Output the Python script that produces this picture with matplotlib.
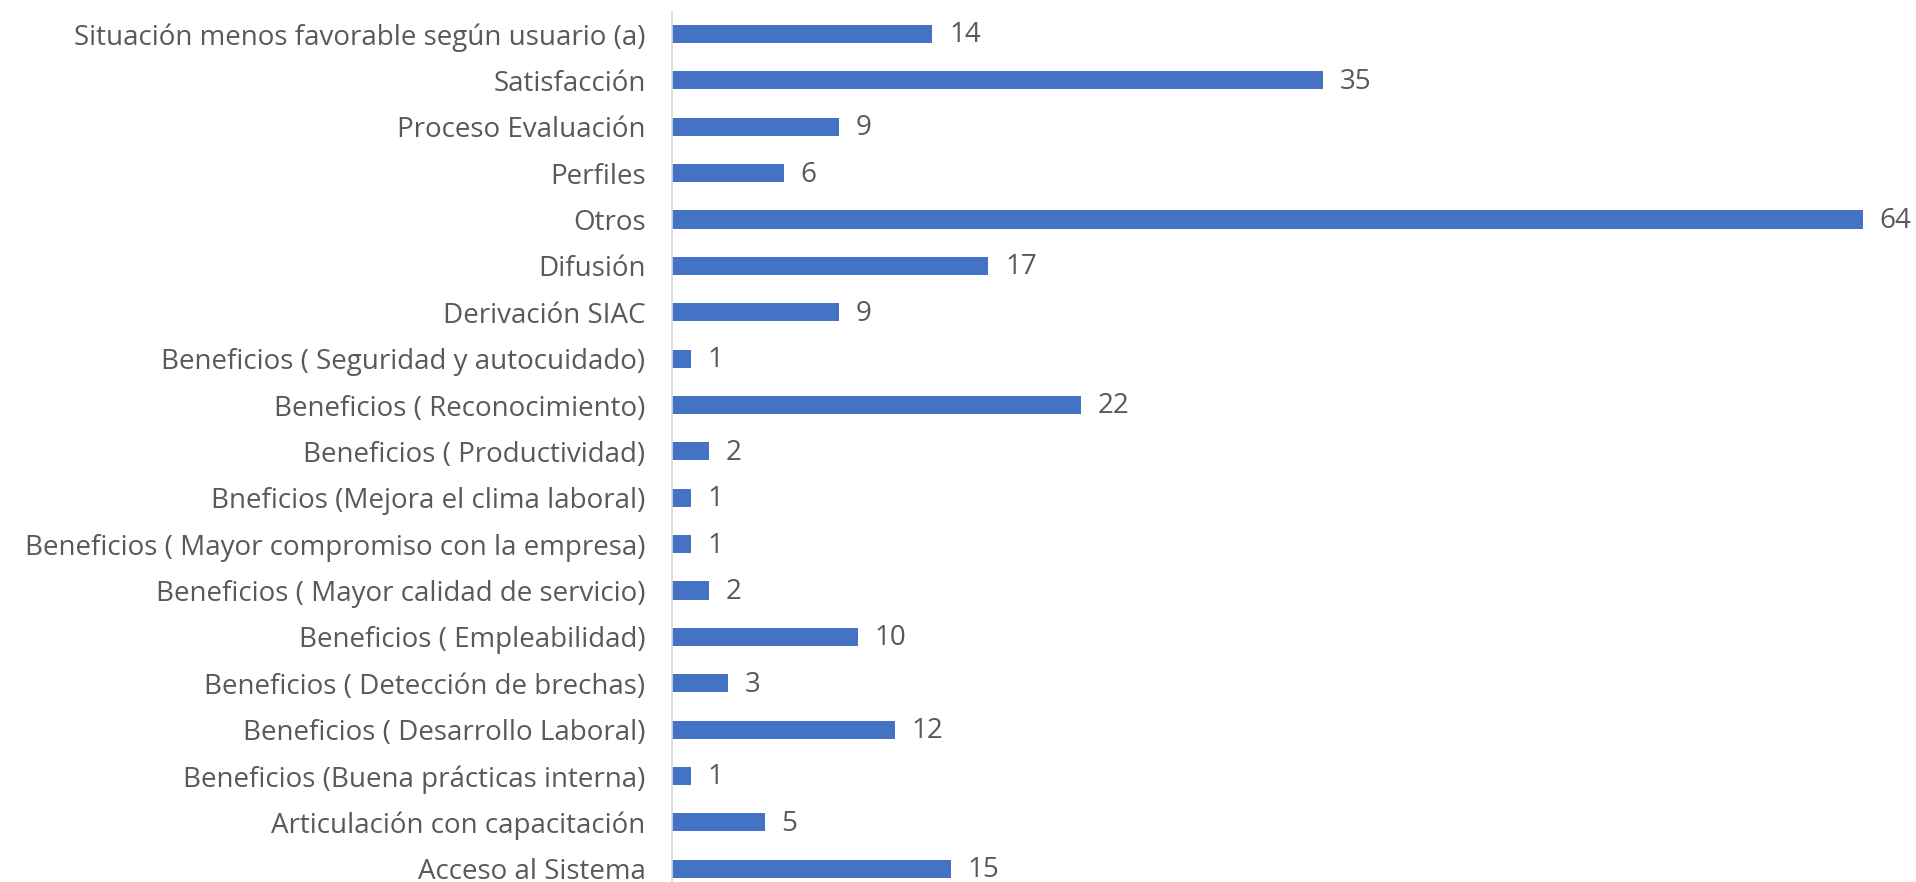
import matplotlib.pyplot as plt

# Data (bottom to top as drawn)
categories = [
    'Acceso al Sistema',
    'Articulación con capacitación',
    'Beneficios (Buena prácticas interna)',
    'Beneficios ( Desarrollo Laboral)',
    'Beneficios ( Detección de brechas)',
    'Beneficios ( Empleabilidad)',
    'Beneficios ( Mayor calidad de servicio)',
    'Beneficios ( Mayor compromiso con la empresa)',
    'Bneficios (Mejora el clima laboral)',
    'Beneficios ( Productividad)',
    'Beneficios ( Reconocimiento)',
    'Beneficios ( Seguridad y autocuidado)',
    'Derivación SIAC',
    'Difusión',
    'Otros',
    'Perfiles',
    'Proceso Evaluación',
    'Satisfacción',
    'Situación menos favorable según usuario (a)',
]
values = [15, 5, 1, 12, 3, 10, 2, 1, 1, 2, 22, 1, 9, 17, 64, 6, 9, 35, 14]

BAR_COLOR = '#4472C4'
TEXT_COLOR = '#595959'

plt.rcParams['font.family'] = ['Open Sans', 'DejaVu Sans']

fig = plt.figure(figsize=(19.16, 8.82), dpi=100)
ax = fig.add_axes([0.3507, -0.0113, 0.6216, 0.999])

pos = list(range(len(categories)))
bars = ax.barh(pos, values, height=0.39, color=BAR_COLOR)

for b, v in zip(bars, values):
    ax.annotate(str(v), (b.get_width(), b.get_y() + b.get_height() / 2),
                xytext=(12, -1), textcoords='offset points',
                va='center', ha='left', fontsize=20, color=TEXT_COLOR)

ax.set_xlim(0, 64)
ax.set_ylim(-0.5, len(categories) - 0.5)
ax.set_yticks(pos)
ax.set_yticklabels(categories, fontsize=20, color=TEXT_COLOR)
ax.tick_params(axis='y', length=0, pad=19)
ax.set_xticks([])

for s in ['top', 'right', 'bottom']:
    ax.spines[s].set_visible(False)
ax.spines['left'].set_color('#d9d9d9')
ax.spines['left'].set_linewidth(1.2)

fig.savefig('out.png', dpi=100)
